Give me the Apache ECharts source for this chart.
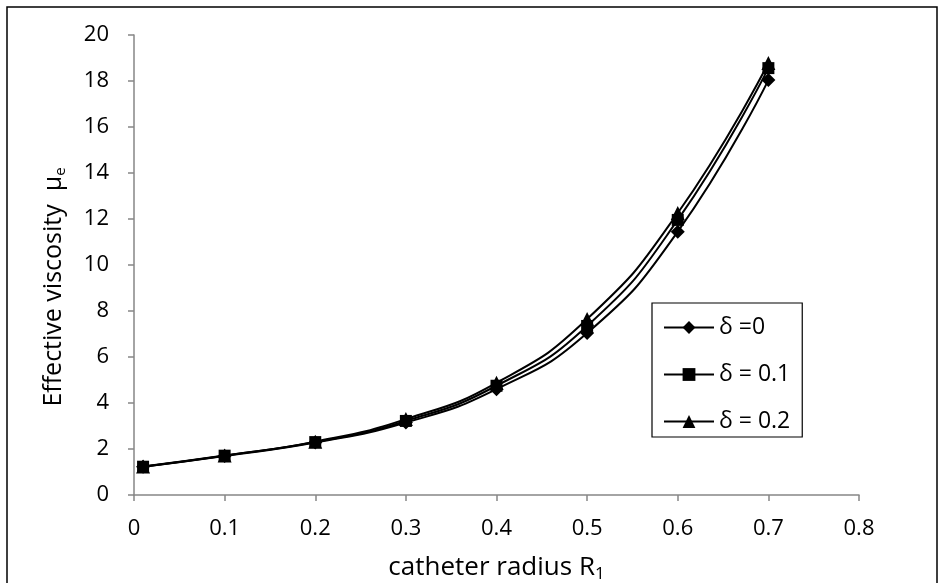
<!DOCTYPE html>
<html>
<head>
<meta charset="utf-8">
<script src="https://cdn.jsdelivr.net/npm/echarts@6/dist/echarts.min.js"></script>
<style>html,body{margin:0;padding:0;background:#fff;}#c{width:940px;height:583px;}</style>
</head>
<body>
<div id="c"></div>
<script>
var radius = [0.01, 0.1, 0.2, 0.3, 0.4, 0.5, 0.6, 0.7];
var delta0 = [1.23, 1.70, 2.28, 3.15, 4.60, 7.04, 11.45, 18.04];
var delta01 = [1.23, 1.71, 2.30, 3.22, 4.75, 7.35, 11.96, 18.56];
var delta02 = [1.24, 1.72, 2.32, 3.30, 4.88, 7.65, 12.26, 18.78];
var seriesNames = ['\u03b4 =0', '\u03b4 = 0.1', '\u03b4 = 0.2'];
var xTicks = ['0', '0.1', '0.2', '0.3', '0.4', '0.5', '0.6', '0.7', '0.8'];

function pairs(ys) { return radius.map(function (x, i) { return [x, ys[i]]; }); }

var font = '"Open Sans", "Noto Sans", sans-serif';
var chart = echarts.init(document.getElementById('c'));
var symbols = ['diamond', 'rect', 'triangle'];
var sizes = [14, 12, 14];
var data = [delta0, delta01, delta02];

chart.setOption({
  animation: false,
  backgroundColor: '#fff',
  graphic: [{
    type: 'rect', shape: { x: 7, y: 7, width: 930, height: 600 },
    style: { fill: 'none', stroke: '#000', lineWidth: 1.5 }, silent: true
  }],
  grid: { left: 134, right: 81, top: 35, bottom: 88, containLabel: false, outerBoundsMode: 'none' },
  legend: {
    orient: 'vertical', left: 652, top: 303,
    padding: [13, 12, 4, 11],
    itemGap: 24,
    itemWidth: 50, itemHeight: 16,
    borderColor: '#000', borderWidth: 1.2,
    textStyle: { fontFamily: font, fontSize: 23, color: '#000' },
    data: seriesNames
  },
  xAxis: {
    type: 'value', min: 0, max: 0.8, interval: 0.1,
    name: '{a|catheter radius R}{s|1}',
    nameLocation: 'middle', nameGap: 57,
    nameTextStyle: {
      fontFamily: font, fontSize: 26, color: '#000',
      rich: {
        a: { fontFamily: font, fontSize: 26, color: '#000' },
        s: { fontFamily: font, fontSize: 17, color: '#000', padding: [14, 0, 0, 0] }
      }
    },
    axisLine: { lineStyle: { color: '#868686', width: 1.5 } },
    axisTick: { inside: false, length: 6, lineStyle: { color: '#868686', width: 1.5 } },
    splitLine: { show: false },
    axisLabel: {
      fontFamily: font, fontSize: 22, color: '#000', margin: 23,
      formatter: function (v) { return xTicks[Math.round(v * 10)]; }
    }
  },
  yAxis: {
    type: 'value', min: 0, max: 20, interval: 2,
    name: '{a|Effective viscosity  \u03bc}{s|e}',
    nameLocation: 'middle', nameGap: 66,
    nameTextStyle: {
      fontFamily: font, fontSize: 25, color: '#000',
      padding: [0, 44, 0, 0],
      rich: {
        a: { fontFamily: font, fontSize: 25, color: '#000' },
        s: { fontFamily: font, fontSize: 15, color: '#000', padding: [14, 0, 0, 0] }
      }
    },
    axisLine: { show: true, lineStyle: { color: '#868686', width: 1.5 } },
    axisTick: { show: true, length: 6, lineStyle: { color: '#868686', width: 1.5 } },
    splitLine: { show: false },
    axisLabel: { fontFamily: font, fontSize: 22, color: '#000', margin: 25 }
  },
  series: data.map(function (d, i) {
    return {
      name: seriesNames[i], type: 'line', smooth: true,
      data: pairs(d), symbol: symbols[i], symbolSize: sizes[i],
      showSymbol: true,
      itemStyle: { color: '#000' },
      lineStyle: { color: '#000', width: 2 },
      z: 2 + i
    };
  })
});
</script>
</body>
</html>
